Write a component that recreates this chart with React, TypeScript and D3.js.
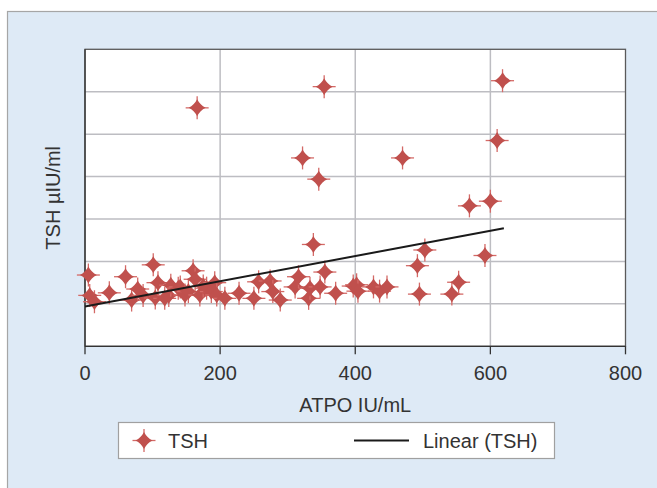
import React from "react";
import * as d3 from "d3";

const xValues = [5, 7, 14, 36, 60, 69, 78, 86, 101, 104, 108, 118, 124, 127, 138, 141, 148, 153, 160, 163, 166, 170, 175, 180, 187, 192, 195, 207, 228, 250, 257, 274, 278, 289, 311, 316, 322, 331, 333, 338, 346, 348, 354, 355, 371, 397, 402, 404, 427, 436, 447, 470, 492, 495, 503, 543, 553, 569, 592, 600, 610, 618];
const yValues = [1.68, 1.2, 1.05, 1.26, 1.64, 1.09, 1.35, 1.2, 1.92, 1.14, 1.5, 1.13, 1.2, 1.44, 1.37, 1.4, 1.21, 1.29, 1.78, 1.58, 5.62, 1.21, 1.42, 1.37, 1.29, 1.5, 1.21, 1.13, 1.25, 1.13, 1.52, 1.54, 1.29, 1.09, 1.4, 1.64, 4.44, 1.13, 1.37, 2.4, 3.94, 1.4, 6.12, 1.75, 1.25, 1.42, 1.45, 1.3, 1.4, 1.3, 1.4, 4.44, 1.9, 1.23, 2.27, 1.23, 1.51, 3.31, 2.14, 3.42, 4.85, 6.26];

const xTicks = [0, 200, 400, 600, 800];
const yGrid = [1, 2, 3, 4, 5, 6];
const trendX = [0, 620];
const trendIntercept = 0.94;
const trendSlope = 0.002968;

const xLabel = "ATPO IU/mL";
const yLabel = "TSH µIU/ml";
const legendLabels = ["TSH", "Linear (TSH)"];

const RED = "#C0504D";
const FONT = "'Liberation Sans', Arial, sans-serif";

function Marker({ cx, cy }: { cx: number; cy: number }) {
  const r = 8.5;
  const s = 11.5;
  const c = 2.9;
  return (
    <g transform={`translate(${cx},${cy})`}>
      <line x1={-s} x2={s} y1={0} y2={0} stroke="#D46A67" strokeWidth={1.3} />
      <line x1={0} x2={0} y1={-s} y2={s} stroke="#D46A67" strokeWidth={1.3} />
      <path
        d={`M0,${-r} Q${c},${-c} ${r},0 Q${c},${c} 0,${r} Q${-c},${c} ${-r},0 Q${-c},${-c} 0,${-r}Z`}
        fill={RED}
      />
    </g>
  );
}

export default function App() {
  const x = d3.scaleLinear().domain([0, 800]).range([85, 625.5]);
  const y = d3.scaleLinear().domain([0, 7]).range([346.3, 49.3]);
  const line = d3
    .line<number>()
    .x((d) => x(d))
    .y((d) => y(trendIntercept + trendSlope * d));
  const points = xValues.map((v, i) => ({ x: v, y: yValues[i] }));

  return (
    <svg
      width={657}
      height={488}
      style={{ position: "absolute", left: 0, top: 0 }}
      fontFamily={FONT}
    >
      <rect x={7.5} y={11.5} width={660} height={490} fill="#DEEAF6" stroke="#A6A6A6" strokeWidth={1.2} />
      <rect x={x(0)} y={y(7)} width={x(800) - x(0)} height={y(0) - y(7)} fill="#FFFFFF" />
      {yGrid.map((g) => (
        <line key={"gy" + g} x1={x(0)} x2={x(800)} y1={y(g)} y2={y(g)} stroke="#BDBDC2" strokeWidth={1.5} />
      ))}
      {xTicks.slice(1, -1).map((t) => (
        <line key={"gx" + t} x1={x(t)} x2={x(t)} y1={y(0)} y2={y(7)} stroke="#BDBDC2" strokeWidth={1.5} />
      ))}
      <rect x={x(0)} y={y(7)} width={x(800) - x(0)} height={y(0) - y(7)} fill="none" stroke="#5A5A5A" strokeWidth={1.3} />
      <line x1={x(0)} x2={x(800)} y1={y(0)} y2={y(0)} stroke="#333" strokeWidth={1.3} />
      <line x1={x(0)} x2={x(0)} y1={y(0)} y2={y(7)} stroke="#333" strokeWidth={1.3} />
      {xTicks.map((t) => (
        <g key={"t" + t}>
          <line x1={x(t)} x2={x(t)} y1={y(0)} y2={y(0) + 8} stroke="#333" strokeWidth={1.3} />
          <text x={x(t)} y={y(0) + 34} textAnchor="middle" fontSize={20} fill="#333">
            {t}
          </text>
        </g>
      ))}
      <text x={x(400)} y={412} textAnchor="middle" fontSize={20} fill="#333">
        {xLabel}
      </text>
      <text
        transform={`translate(60,${y(3.5)}) rotate(-90)`}
        textAnchor="middle"
        fontSize={20}
        fill="#333"
      >
        {yLabel}
      </text>
      {points.map((p, i) => (
        <Marker key={i} cx={x(p.x)} cy={y(p.y)} />
      ))}
      <path d={line(trendX) || ""} stroke="#1a1a1a" strokeWidth={2} fill="none" />
      <g>
        <rect x={118.5} y={422.5} width={436} height={36} fill="#FFFFFF" stroke="#A0A0A0" strokeWidth={1.2} />
        <Marker cx={144} cy={440.5} />
        <text x={168} y={447.5} fontSize={20} fill="#333">
          {legendLabels[0]}
        </text>
        <line x1={354} x2={409} y1={440.5} y2={440.5} stroke="#1a1a1a" strokeWidth={2} />
        <text x={423} y={447.5} fontSize={20} fill="#333">
          {legendLabels[1]}
        </text>
      </g>
    </svg>
  );
}
